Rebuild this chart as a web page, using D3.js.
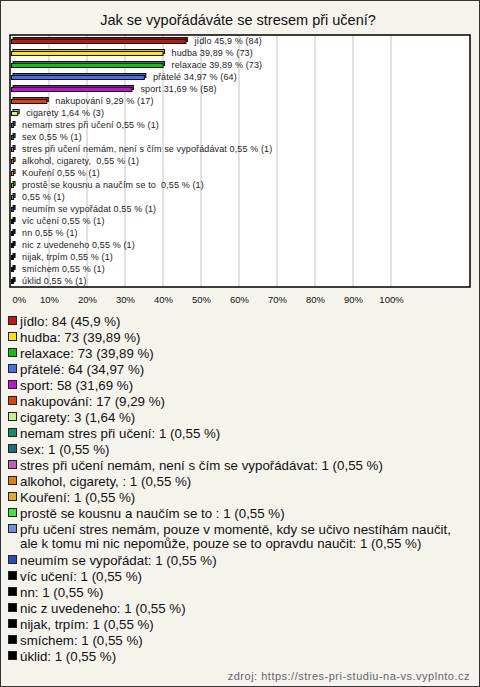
<!DOCTYPE html>
<html><head><meta charset="utf-8">
<script src="https://cdn.jsdelivr.net/npm/d3@7"></script>
<style>
html,body{margin:0;padding:0;background:#fff;}
svg{display:block;font-family:"Liberation Sans",Arial,sans-serif;}
</style></head>
<body>
<svg id="chart" width="480" height="687"></svg>
<script>
const title = "Jak se vypořádáváte se stresem při učení?";
const categories = [
  "jídlo","hudba","relaxace","přátelé","sport","nakupování","cigarety",
  "nemam stres při učení","sex","stres při učení nemám, není s čím se vypořádávat",
  "alkohol, cigarety, ","Kouření","prostě se kousnu a naučím se to ",
  "přu učení stres nemám, pouze v momentě, kdy se učivo nestíhám naučit, ale k tomu mi nic nepomůže, pouze se to opravdu naučit",
  "neumím se vypořádat","víc učení","nn","nic z uvedeneho","nijak, trpím","smíchem","úklid"
];
const counts = [84,73,73,64,58,17,3,1,1,1,1,1,1,1,1,1,1,1,1,1,1];
const percents = [45.9,39.89,39.89,34.97,31.69,9.29,1.64,0.55,0.55,0.55,0.55,0.55,0.55,0.55,0.55,0.55,0.55,0.55,0.55,0.55,0.55];
const colors = ["#c0180c","#ffe600","#12c012","#4a6ee8","#c412d4","#e0400e","#c8f286",
  "#12905e","#1e6e80","#c060c0","#e0800e","#e0b020","#44e044","#6f8fe0","#2250b0",
  "#000","#000","#000","#000","#000","#000"];
const tickValues = [0,10,20,30,40,50,60,70,80,90,100];
const source = "zdroj: https://stres-pri-studiu-na-vs.vyplnto.cz";

const fmt = v => String(v).replace('.', ',');
const svg = d3.select("#chart");
svg.append("rect").attr("x",0.5).attr("y",0.5).attr("width",479).attr("height",686)
  .attr("fill","#f4f3ec").attr("stroke","#333");

svg.append("text").attr("x",238).attr("y",25).attr("text-anchor","middle")
  .attr("font-size",14.5).attr("fill","#111").text(title);

const plot = {x0:10,y0:35,x1:470,y1:287};
svg.append("rect").attr("x",plot.x0).attr("y",plot.y0)
  .attr("width",plot.x1-plot.x0).attr("height",plot.y1-plot.y0).attr("fill","#fff");

const x = d3.scaleLinear().domain([0,100]).range([11,391]);
const y = d3.scaleBand().domain(d3.range(categories.length)).range([plot.y0,plot.y1]);

// gridlines
svg.append("g").selectAll("line").data(tickValues.filter(d=>d>0)).join("line")
  .attr("x1",d=>x(d)).attr("x2",d=>x(d)).attr("y1",plot.y0).attr("y2",plot.y1)
  .attr("stroke","#c4c4c4").attr("stroke-width",1);

// axis
const ax = svg.append("g").attr("transform",`translate(0,${plot.y1+6})`)
  .call(d3.axisBottom(x).tickValues(tickValues).tickFormat(d=>d+"%").tickSize(0));
ax.select(".domain").remove();
ax.selectAll("text").attr("font-size",9.5).attr("fill","#111")
  .attr("font-family","Liberation Sans, Arial, sans-serif");
ax.selectAll(".tick").filter(d=>d===0).select("text").attr("text-anchor","start").attr("dx",1);

// bars (3D look)
const bh = 4, off = 2;
const bars = svg.append("g").selectAll("g").data(categories).join("g");
bars.append("rect")
  .attr("x",(d,i)=>x(0)+off).attr("y",(d,i)=>y(i)+y.bandwidth()/2-bh/2-off+0.5)
  .attr("width",(d,i)=>x(percents[i])-x(0)).attr("height",bh)
  .attr("fill",(d,i)=>d3.color(colors[i]).darker(0.6)).attr("stroke","#111").attr("stroke-width",1);
bars.append("rect")
  .attr("x",(d,i)=>x(0)+0.5).attr("y",(d,i)=>y(i)+y.bandwidth()/2-bh/2+0.5)
  .attr("width",(d,i)=>x(percents[i])-x(0)).attr("height",bh)
  .attr("fill",(d,i)=>colors[i]).attr("stroke","#111").attr("stroke-width",1);
bars.append("text")
  .attr("x",(d,i)=>x(percents[i])+9).attr("y",(d,i)=>y(i)+y.bandwidth()/2+3)
  .attr("font-size",9).attr("letter-spacing",0.12).attr("fill","#222").attr("xml:space","preserve")
  .style("white-space","pre")
  .text((d,i)=>(d.length>100?"":d+" ")+fmt(percents[i])+" % ("+counts[i]+")");

// plot border
svg.append("rect").attr("x",plot.x0).attr("y",plot.y0)
  .attr("width",plot.x1-plot.x0).attr("height",plot.y1-plot.y0)
  .attr("fill","none").attr("stroke","#000").attr("stroke-width",1.5);

// legend
const legend = svg.append("g");
let ly = 321;
categories.forEach((c,i)=>{
  const lines = c.length>100 ? ["přu učení stres nemám, pouze v momentě, kdy se učivo nestíhám naučit,",
    "ale k tomu mi nic nepomůže, pouze se to opravdu naučit: "+counts[i]+" ("+fmt(percents[i])+" %)"]
    : [c+": "+counts[i]+" ("+fmt(percents[i])+" %)"];
  legend.append("rect").attr("x",8.5).attr("y",ly-4.5).attr("width",8).attr("height",8)
    .attr("fill",colors[i]).attr("stroke","#222").attr("stroke-width",1);
  lines.forEach((t,k)=>{
    legend.append("text").attr("x",20).attr("y",ly+4.5+k*14).attr("font-size",13.3)
      .attr("fill","#111").style("white-space","pre").text(t);
  });
  ly += 16 + (lines.length-1)*15;
});

svg.append("text").attr("x",470).attr("y",680).attr("text-anchor","end")
  .attr("font-size",11).attr("letter-spacing",0.5).attr("fill","#666").text(source);
</script>
</body></html>
